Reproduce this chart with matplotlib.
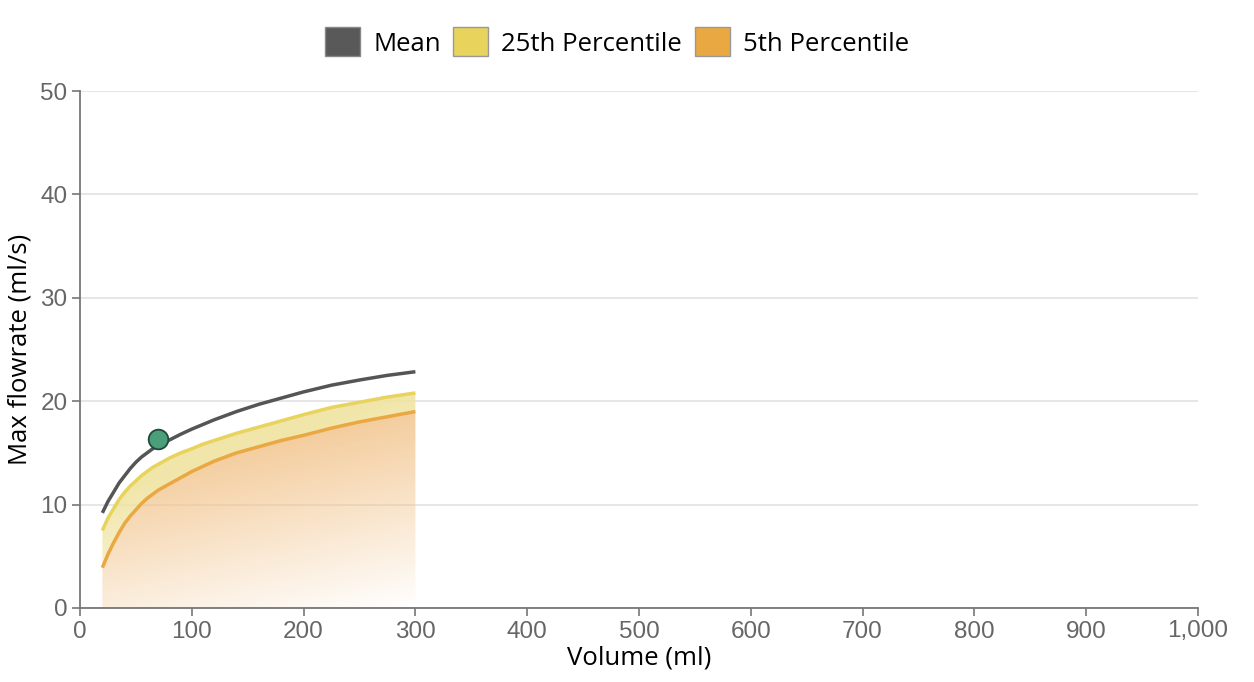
import matplotlib.pyplot as plt
import numpy as np
from matplotlib.patches import Patch, Polygon
from matplotlib.ticker import FuncFormatter

volume = [20, 25, 30, 35, 40, 45, 50, 55, 60, 65, 70, 80, 90, 100, 110, 120,
          140, 160, 180, 200, 225, 250, 275, 300]
mean_flow = [9.2, 10.3, 11.2, 12.1, 12.8, 13.5, 14.1, 14.6, 15.0, 15.4, 15.7, 16.25,
             16.8, 17.3, 17.75, 18.2, 19.0, 19.7, 20.3, 20.9, 21.55, 22.05, 22.5, 22.85]
p25_flow = [7.5, 8.7, 9.6, 10.5, 11.2, 11.8, 12.3, 12.8, 13.2, 13.6, 13.9, 14.5,
            15.0, 15.4, 15.85, 16.2, 16.9, 17.5, 18.1, 18.7, 19.4, 19.9, 20.4, 20.8]
p5_flow = [3.9, 5.2, 6.3, 7.3, 8.2, 8.9, 9.5, 10.1, 10.6, 11.0, 11.4, 12.0,
           12.6, 13.2, 13.7, 14.2, 15.0, 15.6, 16.2, 16.7, 17.4, 18.0, 18.5, 19.0]
patient_volume = [70]
patient_flow = [16.3]

MEAN_C = "#555555"
P25_C = "#e8d35c"
P5_C = "#eaa843"


def gradient_fill(ax, xs, top, bottom, rgb, alpha_top, alpha_bottom, tilt=0.0):
    xs = np.asarray(xs, float)
    top = np.asarray(top, float)
    bottom = np.asarray(bottom, float)
    verts = np.vstack([np.column_stack([xs, top]), np.column_stack([xs[::-1], bottom[::-1]])])
    poly = Polygon(verts, closed=True, facecolor="none", edgecolor="none")
    ax.add_patch(poly)
    ny, nx = 200, 200
    yy, xx = np.mgrid[0:1:ny * 1j, 0:1:nx * 1j]
    t = np.clip(yy + tilt * (1 - xx), 0, 1)
    img = np.zeros((ny, nx, 4))
    img[..., :3] = rgb
    img[..., 3] = alpha_bottom + (alpha_top - alpha_bottom) * t
    x0, x1 = xs.min(), xs.max()
    y0, y1 = bottom.min(), top.max()
    im = ax.imshow(img, extent=[x0, x1, y0, y1], origin="lower", aspect="auto",
                   interpolation="bilinear", zorder=1)
    im.set_clip_path(poly)


fig = plt.figure(figsize=(12.54, 6.82), dpi=100)
ax = fig.add_axes([80 / 1254, 74 / 682, 1118 / 1254, 517 / 682])

orange_rgb = np.array([242, 196, 140]) / 255
yellow_rgb = np.array([240, 228, 160]) / 255
gradient_fill(ax, volume, p5_flow, np.zeros(len(volume)), orange_rgb, 0.85, 0.0, tilt=0.35)
gradient_fill(ax, volume, p25_flow, p5_flow, yellow_rgb, 0.9, 0.0, tilt=0.6)

line_kw = dict(lw=2.5, solid_joinstyle="round", solid_capstyle="butt")
ax.plot(volume, p5_flow, color=P5_C, zorder=3, **line_kw)
ax.plot(volume, p25_flow, color=P25_C, zorder=3, **line_kw)
ax.plot(volume, mean_flow, color=MEAN_C, zorder=4, **line_kw)
ax.scatter(patient_volume, patient_flow, s=200, color="#4a9e7a", edgecolor="#1f4a3c",
           linewidth=1.3, zorder=5)

ax.set_xlim(0, 1000)
ax.set_ylim(0, 50)
ax.set_xticks(np.arange(0, 1001, 100))
ax.set_yticks(np.arange(0, 51, 10))
ax.xaxis.set_major_formatter(FuncFormatter(lambda v, p: f"{int(v):,}"))
ax.grid(axis="y", color="#e2e2e2", lw=1.2, zorder=0)
ax.set_axisbelow(True)
for s in ["top", "right"]:
    ax.spines[s].set_visible(False)
for s in ["left", "bottom"]:
    ax.spines[s].set_color("#777777")
    ax.spines[s].set_linewidth(1.3)
ax.tick_params(colors="#777777", length=6, width=1.2, labelsize=17.5, labelcolor="#666666",
               pad=3)
for lab in ax.get_xticklabels() + ax.get_yticklabels():
    lab.set_family("Liberation Sans")

ax.set_xlabel("Volume (ml)", fontsize=18.5, family="Open Sans", labelpad=2)
ax.set_ylabel("Max flowrate (ml/s)", fontsize=18.5, family="Open Sans", labelpad=6)

handles = [
    Patch(facecolor="#595959", edgecolor="#888888", label="Mean"),
    Patch(facecolor="#e8d35c", edgecolor="#999999", label="25th Percentile"),
    Patch(facecolor="#eaa843", edgecolor="#999999", label="5th Percentile"),
]
fig.legend(handles=handles, loc="center", bbox_to_anchor=(0.5 - 10 / 1254, 1 - 42 / 682), ncol=3,
           frameon=False, prop={"family": "Open Sans", "size": 18.5},
           handlelength=1.36, handleheight=1.36, handletextpad=0.5, columnspacing=0.5)

fig.savefig("out.png", dpi=100)
